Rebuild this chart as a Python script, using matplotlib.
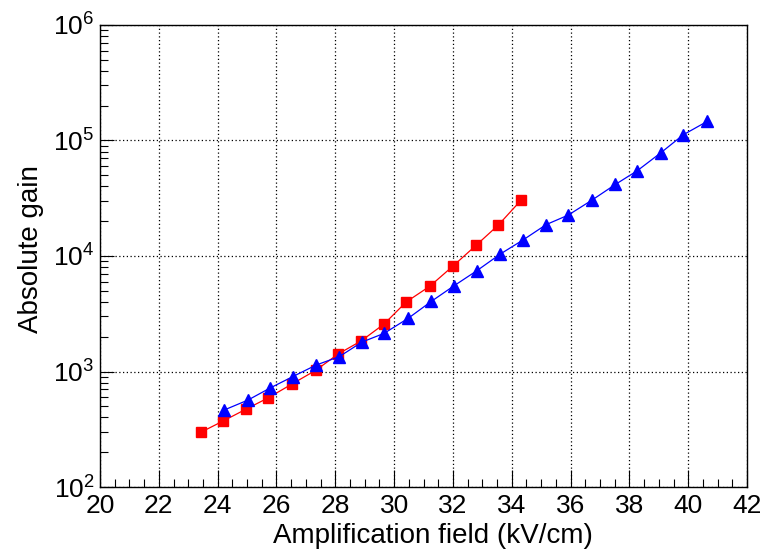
import numpy as np
import matplotlib
matplotlib.use('Agg')
import matplotlib.pyplot as plt
from matplotlib.ticker import FixedLocator, LogLocator, NullFormatter, FixedFormatter

matplotlib.rcParams['font.family'] = ['Liberation Sans', 'DejaVu Sans']
matplotlib.rcParams['mathtext.fontset'] = 'custom'
matplotlib.rcParams['mathtext.rm'] = 'Liberation Sans'
matplotlib.rcParams['mathtext.default'] = 'regular'

# Datos: serie vermella (cadrados)
red_field = [23.44, 24.18, 24.97, 25.71, 26.53, 27.35, 28.10, 28.88, 29.66, 30.41,
             31.22, 32.00, 32.79, 33.54, 34.32]
red_gain = [299, 372, 473, 590, 780, 1030, 1420, 1840, 2580, 4000,
            5490, 8180, 12400, 18500, 30500]

# Serie azul (triangulos)
blue_field = [24.22, 25.03, 25.78, 26.56, 27.35, 28.13, 28.91, 29.66, 30.48, 31.26,
              32.04, 32.82, 33.61, 34.39, 35.17, 35.92, 36.73, 37.52, 38.27, 39.08,
              39.83, 40.65]
blue_gain = [464, 566, 719, 905, 1138, 1343, 1800, 2140, 2890, 4040,
             5530, 7480, 10400, 13800, 18700, 22600, 30500, 41600, 54800, 78700,
             112000, 146600]

xticks = [20, 22, 24, 26, 28, 30, 32, 34, 36, 38, 40, 42]
ytick_vals = [1e2, 1e3, 1e4, 1e5, 1e6]
ytick_labels = ['$10^{2}$', '$10^{3}$', '$10^{4}$', '$10^{5}$', '$10^{6}$']

fig = plt.figure(figsize=(7.67, 5.49), dpi=100)
ax = fig.add_axes([0.1304, 0.1129, 0.8436, 0.8416])

ax.plot(red_field, red_gain, color='#ff0000', lw=0.9, marker='s', ms=7.5,
        mec='#ff0000', mfc='#ff0000', zorder=3)
ax.plot(blue_field, blue_gain, color='#0000ff', lw=0.9, marker='^', ms=8,
        mec='#0000ff', mfc='#0000ff', zorder=3)

ax.set_yscale('log')
ax.set_xlim(20, 42)
ax.set_ylim(1e2, 1e6)

ax.xaxis.set_major_locator(FixedLocator(xticks))
ax.xaxis.set_minor_locator(FixedLocator(np.arange(20, 42.01, 0.5)))
ax.yaxis.set_major_locator(FixedLocator(ytick_vals))
ax.yaxis.set_major_formatter(FixedFormatter(ytick_labels))
ax.yaxis.set_minor_locator(LogLocator(base=10, subs=np.arange(2, 10), numticks=20))
ax.yaxis.set_minor_formatter(NullFormatter())

ax.tick_params(axis='both', which='both', direction='in', top=False, right=False,
               labelsize=19, width=0.8)
ax.tick_params(axis='x', which='major', length=12, pad=5)
ax.tick_params(axis='x', which='minor', length=6)
ax.tick_params(axis='y', which='major', length=10, pad=4)
ax.tick_params(axis='y', which='minor', length=6)

ax.grid(True, which='major', color='black', linestyle=(0, (1, 2)), lw=0.9)
for s in ax.spines.values():
    s.set_linewidth(1.0)

ax.set_xlabel('Amplification field (kV/cm)', fontsize=20)
ax.set_ylabel('Absolute gain', fontsize=20)
ax.xaxis.set_label_coords(0.515, -0.121)
ax.xaxis.label.set_va('baseline')
ax.yaxis.set_label_coords(-0.106, 0.515)
ax.yaxis.label.set_va('center')

fig.savefig('out.png', dpi=100)
